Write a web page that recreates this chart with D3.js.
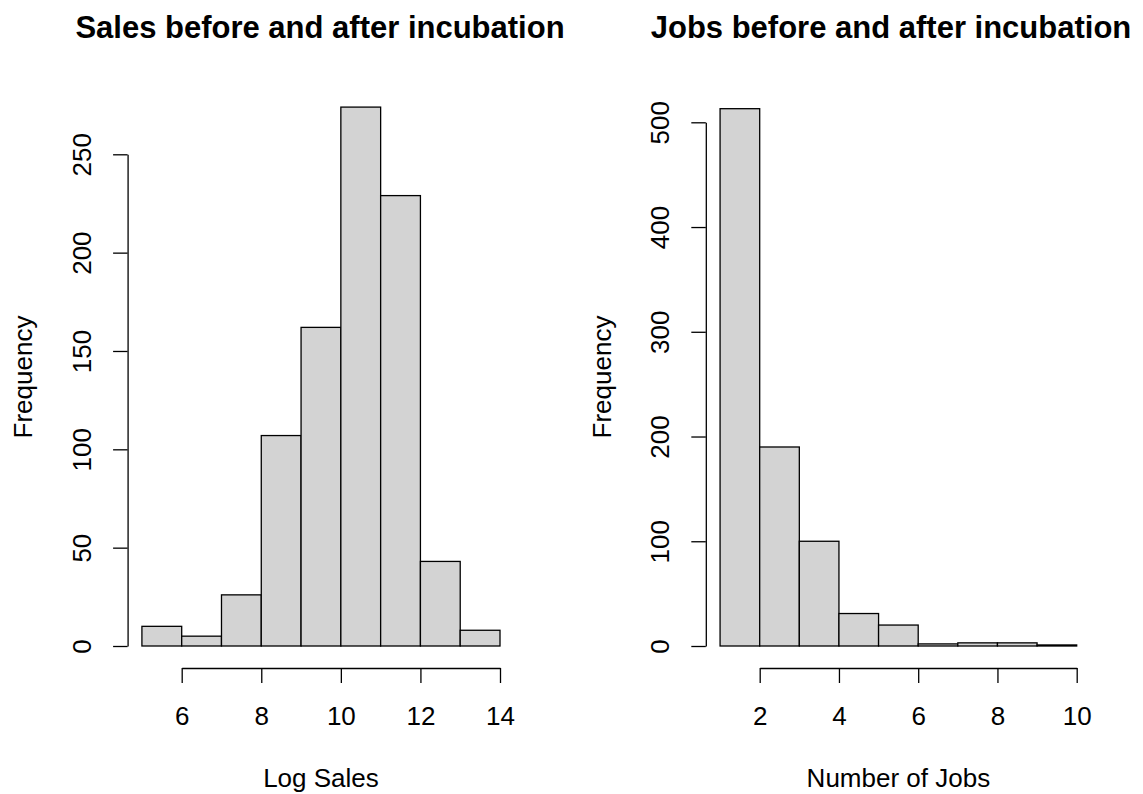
<!DOCTYPE html>
<html>
<head>
<meta charset="utf-8">
<script src="https://cdn.jsdelivr.net/npm/d3@7"></script>
<style>
  html, body { margin: 0; padding: 0; background: #fff; }
  svg { display: block; font-family: "Liberation Sans", Arial, sans-serif; }
</style>
</head>
<body>
<svg id="chart" width="1143" height="794"></svg>
<script>
// Histogram of log sales: bin edges and counts
const salesEdges = [5, 6, 7, 8, 9, 10, 11, 12, 13, 14];
const salesCounts = [10, 5, 26, 107, 162, 274, 229, 43, 8];
const salesXTicks = [6, 8, 10, 12, 14];
const salesYTicks = [0, 50, 100, 150, 200, 250];

// Histogram of number of jobs: bin edges and counts
const jobsEdges = [1, 2, 3, 4, 5, 6, 7, 8, 9, 10];
const jobsCounts = [513, 190, 100, 31, 20, 2, 3, 3, 1];
const jobsXTicks = [2, 4, 6, 8, 10];
const jobsYTicks = [0, 100, 200, 300, 400, 500];

const svg = d3.select("#chart");

function panel(opts) {
  const { edges, counts, xTicks, yTicks, xDomain, xRange, yDomain, yRange,
          title, titleX, xLabel, yLabelX } = opts;
  const x = d3.scaleLinear().domain(xDomain).range(xRange);
  const y = d3.scaleLinear().domain(yDomain).range(yRange);
  const g = svg.append("g");

  const bins = counts.map((c, i) => ({ x0: edges[i], x1: edges[i + 1], n: c }));

  g.selectAll("rect.bar").data(bins).enter().append("rect")
    .attr("class", "bar")
    .attr("x", d => x(d.x0))
    .attr("y", d => y(d.n))
    .attr("width", d => x(d.x1) - x(d.x0))
    .attr("height", d => y(0) - y(d.n))
    .attr("fill", "#d3d3d3")
    .attr("stroke", "#000")
    .attr("stroke-width", 1.3);

  // plot region spans the bins plus 4% on each side
  const lo = edges[0], hi = edges[edges.length - 1];
  const pad = 0.04 * (hi - lo);
  const plotLeft = x(lo - pad), plotRight = x(hi + pad);
  const plotCenter = (plotLeft + plotRight) / 2;

  // y axis sits at the left edge of the plot region
  const ySub = d3.scaleLinear()
    .domain([yTicks[0], yTicks[yTicks.length - 1]])
    .range([y(yTicks[0]), y(yTicks[yTicks.length - 1])]);
  const ya = g.append("g")
    .attr("transform", `translate(${plotLeft},0)`)
    .call(d3.axisLeft(ySub).tickValues(yTicks).tickSize(14.5).tickSizeOuter(0).tickFormat(d3.format("d")));
  ya.selectAll("path, line").attr("stroke", "#000").attr("stroke-width", 1.3);
  ya.selectAll("text")
    .attr("font-size", 26).attr("fill", "#000")
    .attr("text-anchor", "middle")
    .attr("dy", null).attr("x", 0).attr("y", -36.6)
    .attr("transform", "rotate(-90)");

  // x axis below the bars, spanning first to last tick
  const xSub = d3.scaleLinear()
    .domain([xTicks[0], xTicks[xTicks.length - 1]])
    .range([x(xTicks[0]), x(xTicks[xTicks.length - 1])]);
  const xa = g.append("g")
    .attr("transform", `translate(0,668)`)
    .call(d3.axisBottom(xSub).tickValues(xTicks).tickSize(15).tickSizeOuter(0).tickFormat(d3.format("d")));
  xa.selectAll("path, line").attr("stroke", "#000").attr("stroke-width", 1.3);
  xa.selectAll("text")
    .attr("font-size", 26).attr("fill", "#000")
    .attr("dy", null).attr("y", 56.5);

  g.append("text")
    .attr("x", titleX).attr("y", 38)
    .attr("text-anchor", "middle")
    .attr("font-size", 31).attr("font-weight", "bold")
    .text(title);

  g.append("text")
    .attr("x", plotCenter).attr("y", 787)
    .attr("text-anchor", "middle")
    .attr("font-size", 26)
    .text(xLabel);

  g.append("text")
    .attr("transform", `translate(${yLabelX},377) rotate(-90)`)
    .attr("text-anchor", "middle")
    .attr("font-size", 26)
    .text("Frequency");
}

panel({
  edges: salesEdges, counts: salesCounts, xTicks: salesXTicks, yTicks: salesYTicks,
  xDomain: [6, 14], xRange: [181.7, 500],
  yDomain: [0, 250], yRange: [646, 154.3],
  title: "Sales before and after incubation", titleX: 320,
  xLabel: "Log Sales", yLabelX: 32
});

panel({
  edges: jobsEdges, counts: jobsCounts, xTicks: jobsXTicks, yTicks: jobsYTicks,
  xDomain: [2, 10], xRange: [759.7, 1076.7],
  yDomain: [0, 500], yRange: [646, 122.3],
  title: "Jobs before and after incubation", titleX: 891,
  xLabel: "Number of Jobs", yLabelX: 611
});
</script>
</body>
</html>
